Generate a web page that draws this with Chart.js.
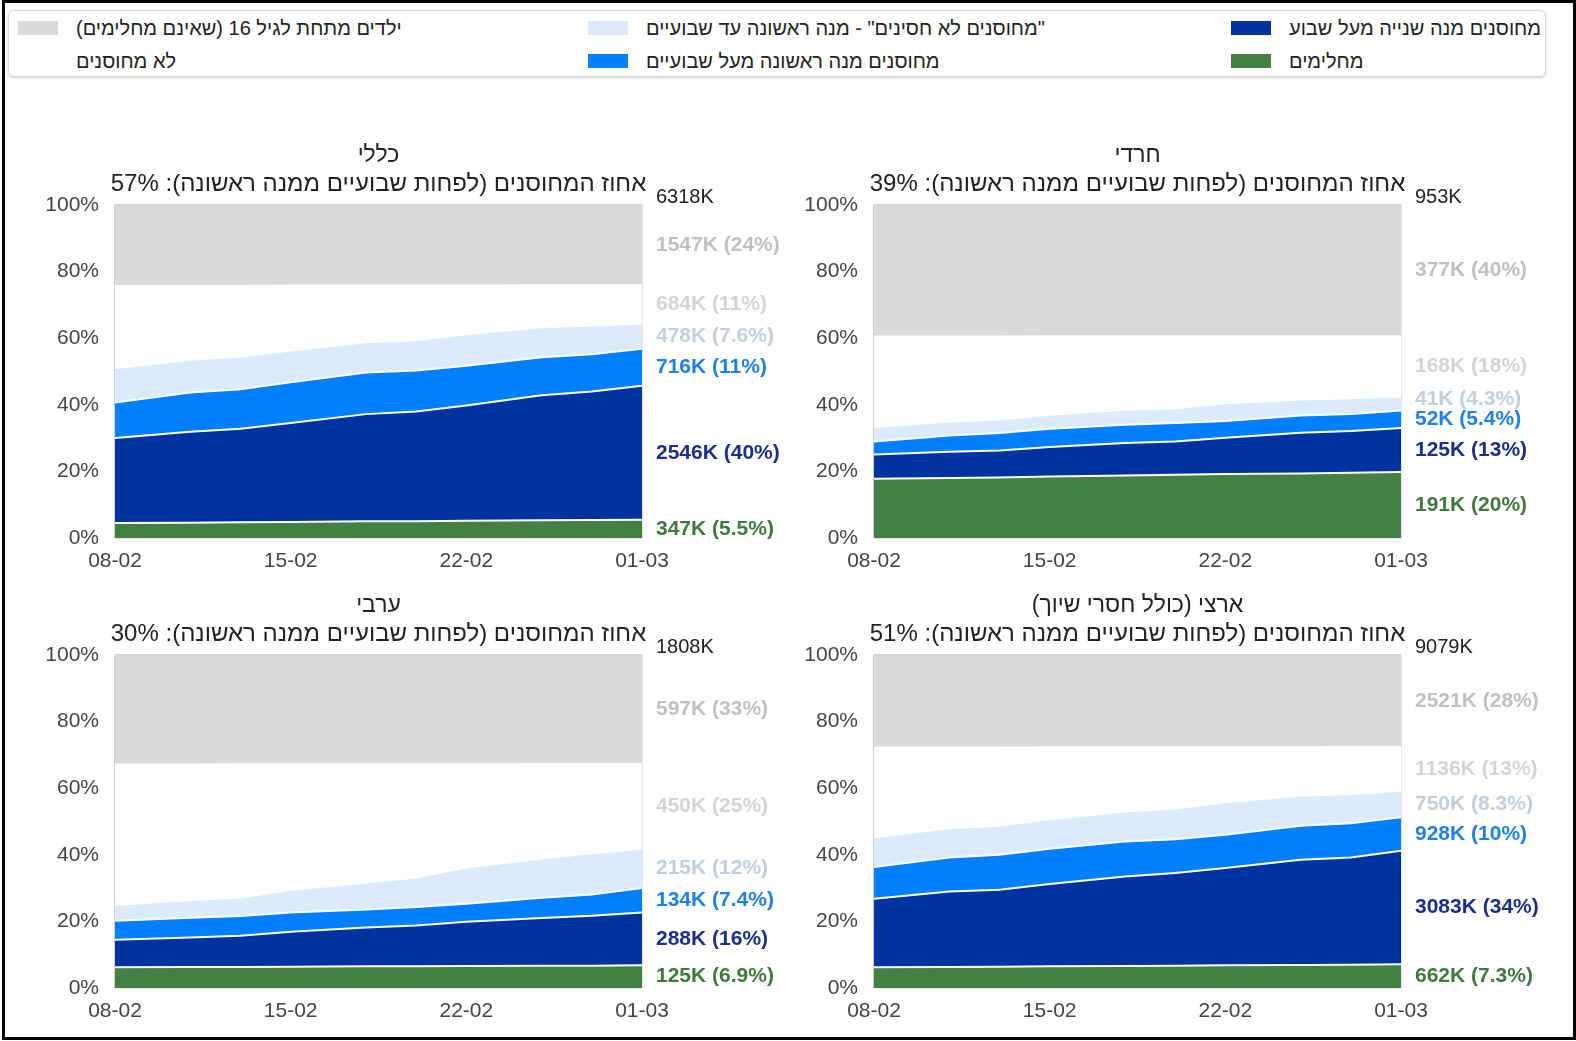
<!DOCTYPE html>
<html lang="he">
<head>
<meta charset="utf-8">
<script src="https://cdn.jsdelivr.net/npm/chart.js@4.4.1/dist/chart.umd.min.js"></script>
<style>
  body { margin: 0; width: 1576px; height: 1041px; background: #fff; position: relative; overflow: hidden;
         font-family: "Liberation Sans", Arial, sans-serif; }
  .frame { position: absolute; left: 2px; top: 0; width: 1574px; height: 1040px; box-sizing: border-box;
           border: 3px solid #000; }
  .legend { position: absolute; left: 8px; top: 10px; width: 1538px; height: 67px; box-sizing: border-box;
            border: 1px solid #d6d6d6; border-radius: 6px; box-shadow: 0 1px 3px rgba(0,0,0,.18); }
  .item { position: absolute; display: flex; align-items: center; height: 22px; font-size: 20px; color: #222; }
  .swatch { width: 40px; height: 14px; margin-right: 18px; flex: none; }
  .panel { position: absolute; }
</style>
</head>
<body>
<div class="frame"></div>
<div class="legend"></div>
<div id="legendItems"></div>
<canvas class="panel" id="general" width="785" height="450" style="left:0;top:130px"></canvas>
<canvas class="panel" id="haredi" width="791" height="450" style="left:785px;top:130px"></canvas>
<canvas class="panel" id="arab" width="785" height="450" style="left:0;top:580px"></canvas>
<canvas class="panel" id="national" width="791" height="450" style="left:785px;top:580px"></canvas>
<script>
// days since 08-02 (samples on Mon / Thu / Sat)
const days = [0, 3, 5, 7, 10, 12, 14, 17, 19, 21];
const tickDays = [0, 7, 14, 21];
const tickLabels = ['08-02', '15-02', '22-02', '01-03'];

// cumulative top of each layer, % of population
const generalRecovered = [4.5, 4.6, 4.7, 4.8, 5.0, 5.0, 5.2, 5.3, 5.4, 5.5];
const generalDose2 = [30.0, 31.9, 32.8, 34.5, 37.2, 38.0, 39.8, 42.9, 44.0, 45.7];
const generalDose1 = [40.7, 43.7, 44.7, 46.8, 49.7, 50.3, 51.7, 54.3, 55.2, 56.8];
const generalDose1Recent = [51.0, 53.5, 54.5, 56.3, 58.8, 59.4, 61.2, 63.3, 63.8, 64.4];
const generalUnvaccinated = [75.7, 75.7, 75.7, 75.8, 75.8, 75.8, 75.8, 75.9, 75.9, 75.9];

const harediRecovered = [17.8, 18.0, 18.2, 18.5, 18.8, 19.0, 19.2, 19.4, 19.6, 19.8];
const harediDose2 = [25.1, 25.9, 26.3, 27.3, 28.5, 29.0, 30.1, 31.6, 32.1, 33.0];
const harediDose1 = [29.0, 30.8, 31.5, 32.8, 34.0, 34.5, 35.1, 36.8, 37.2, 38.3];
const harediDose1Recent = [33.3, 35.0, 35.6, 37.0, 38.5, 39.0, 40.5, 41.6, 42.0, 42.5];
const harediUnvaccinated = [60.5, 60.5, 60.5, 60.6, 60.6, 60.6, 60.6, 60.6, 60.6, 60.6];

const arabRecovered = [6.2, 6.3, 6.3, 6.4, 6.5, 6.5, 6.6, 6.7, 6.7, 6.8];
const arabDose2 = [14.5, 15.2, 15.7, 16.9, 18.2, 18.8, 19.9, 21.0, 21.7, 22.7];
const arabDose1 = [20.2, 21.1, 21.6, 22.7, 23.6, 24.3, 25.3, 27.1, 28.1, 30.0];
const arabDose1Recent = [24.9, 26.4, 27.2, 29.4, 31.7, 33.2, 36.2, 38.9, 40.5, 41.8];
const arabUnvaccinated = [67.1, 67.1, 67.2, 67.2, 67.2, 67.2, 67.2, 67.3, 67.3, 67.3];

const nationalRecovered = [6.2, 6.3, 6.4, 6.5, 6.6, 6.7, 6.8, 6.9, 7.0, 7.1];
const nationalDose2 = [26.8, 29.0, 29.5, 31.2, 33.5, 34.5, 36.0, 38.5, 39.2, 41.2];
const nationalDose1 = [36.3, 39.2, 40.0, 41.8, 44.0, 44.7, 46.0, 48.7, 49.5, 51.3];
const nationalDose1Recent = [45.3, 48.0, 48.7, 50.7, 53.0, 53.9, 55.8, 57.7, 58.2, 59.2];
const nationalUnvaccinated = [72.2, 72.2, 72.2, 72.3, 72.3, 72.3, 72.3, 72.3, 72.4, 72.4];

const panelTitles = ['כללי', 'חרדי', 'ערבי', 'ארצי (כולל חסרי שיוך)'];
const coveragePct = [57, 39, 30, 51];
const totals = ['6318K', '953K', '1808K', '9079K'];
// end labels, bottom layer first
const generalLabels = ['347K (5.5%)', '2546K (40%)', '716K (11%)', '478K (7.6%)', '684K (11%)', '1547K (24%)'];
const harediLabels = ['191K (20%)', '125K (13%)', '52K (5.4%)', '41K (4.3%)', '168K (18%)', '377K (40%)'];
const arabLabels = ['125K (6.9%)', '288K (16%)', '134K (7.4%)', '215K (12%)', '450K (25%)', '597K (33%)'];
const nationalLabels = ['662K (7.3%)', '3083K (34%)', '928K (10%)', '750K (8.3%)', '1136K (13%)', '2521K (28%)'];

const layerNames = ['מחלימים', 'מחוסנים מנה שנייה מעל שבוע', 'מחוסנים מנה ראשונה מעל שבועיים',
  '"מחוסנים לא חסינים" - מנה ראשונה עד שבועיים', 'לא מחוסנים', 'ילדים מתחת לגיל 16 (שאינם מחלימים)'];
const fillColors = ['#447f43', '#0033a0', '#0080ff', '#dcebfc', '#ffffff', '#dadada'];
const labelColors = ['#3f7a3d', '#1c2e8c', '#1f80ea', '#c2cedb', '#d4d4d4', '#c0c0c0'];

const FONT = '"Liberation Sans", Arial, sans-serif';
Chart.defaults.font.family = FONT;

// legend (html, three columns)
const legendSlots = [
  { layer: 1, left: 1231, top: 17 }, { layer: 0, left: 1231, top: 50 },
  { layer: 3, left: 588, top: 17 }, { layer: 2, left: 588, top: 50 },
  { layer: 5, left: 18, top: 17 }, { layer: 4, left: 18, top: 50 }
];
const legendBox = document.getElementById('legendItems');
legendSlots.forEach(s => {
  const el = document.createElement('div');
  el.className = 'item';
  el.style.left = s.left + 'px';
  el.style.top = s.top + 'px';
  el.innerHTML = '<span class="swatch" style="background:' + fillColors[s.layer] + '"></span>' +
    '<span dir="rtl">' + layerNames[s.layer].replace(/"/g, '&quot;') + '</span>';
  legendBox.appendChild(el);
});

const panelText = {
  id: 'panelText',
  afterDraw(chart, args, opts) {
    const { ctx, chartArea: a } = chart;
    const y = chart.scales.y;
    ctx.save();
    ctx.textBaseline = 'middle';
    ctx.fillStyle = '#222';
    ctx.textAlign = 'center';
    ctx.direction = 'rtl';
    const cx = (a.left + a.right) / 2;
    ctx.font = '23px ' + FONT;
    ctx.fillText(opts.title, cx, a.top - 49);
    ctx.font = '24px ' + FONT;
    ctx.fillText(opts.subtitle, cx, a.top - 21);
    ctx.direction = 'ltr';
    ctx.textAlign = 'left';
    ctx.font = '20px ' + FONT;
    ctx.fillText(opts.total, a.right + 14, a.top - 8);

    const last = opts.tops.map(arr => arr[arr.length - 1]);
    last.push(100);
    let prev = Infinity;
    ctx.font = 'bold 21px ' + FONT;
    opts.labels.forEach((txt, i) => {
      const lo = i === 0 ? 0 : last[i - 1];
      let py = y.getPixelForValue((lo + last[i]) / 2);
      py = Math.min(py, prev - 20);
      prev = py;
      ctx.fillStyle = labelColors[i];
      ctx.fillText(txt, a.right + 14, py);
    });
    ctx.restore();
  }
};

function makePanel(id, idx, tops, labels, axisWidth, padRight) {
  const datasets = tops.map((arr, i) => ({
    data: days.map((d, j) => ({ x: d, y: arr[j] })),
    fill: i === 0 ? 'origin' : '-1',
    backgroundColor: fillColors[i],
    borderColor: '#ffffff',
    borderWidth: 2,
    pointRadius: 0,
    tension: 0
  }));
  // children layer: from unvaccinated top up to 100%
  const unvax = tops[tops.length - 1];
  datasets.push({
    data: days.map((d, j) => ({ x: d, y: unvax[j] })),
    fill: { value: 100 },
    backgroundColor: fillColors[5],
    borderWidth: 0,
    pointRadius: 0
  });

  new Chart(document.getElementById(id), {
    type: 'line',
    data: { datasets },
    plugins: [panelText],
    options: {
      responsive: false,
      devicePixelRatio: 1,
      animation: false,
      layout: { padding: { left: 0, right: padRight, top: 75, bottom: 2 } },
      plugins: {
        legend: { display: false },
        tooltip: { enabled: false },
        panelText: {
          title: panelTitles[idx],
          subtitle: 'אחוז המחוסנים (לפחות שבועיים ממנה ראשונה): ' + coveragePct[idx] + '%',
          total: totals[idx],
          labels,
          tops
        }
      },
      scales: {
        x: {
          type: 'linear', min: 0, max: 21, z: 1,
          afterBuildTicks: s => { s.ticks = tickDays.map(v => ({ value: v })); },
          afterFit: s => { s.height = 40; },
          grid: { color: '#cfcfcf', lineWidth: 1.5, drawTicks: false },
          border: { display: false },
          ticks: {
            padding: 11, color: '#444', font: { size: 21 }, maxRotation: 0,
            callback: v => tickLabels[tickDays.indexOf(v)]
          }
        },
        y: {
          min: 0, max: 100, z: 1,
          afterFit: s => { s.width = axisWidth; },
          grid: { color: '#cfcfcf', lineWidth: 1.5, drawTicks: false },
          border: { display: false },
          ticks: { stepSize: 20, padding: 16, color: '#444', font: { size: 21 }, callback: v => v + '%' }
        }
      }
    }
  });
}

makePanel('general', 0,
  [generalRecovered, generalDose2, generalDose1, generalDose1Recent, generalUnvaccinated], generalLabels, 115, 143);
makePanel('haredi', 1,
  [harediRecovered, harediDose2, harediDose1, harediDose1Recent, harediUnvaccinated], harediLabels, 89, 175);
makePanel('arab', 2,
  [arabRecovered, arabDose2, arabDose1, arabDose1Recent, arabUnvaccinated], arabLabels, 115, 143);
makePanel('national', 3,
  [nationalRecovered, nationalDose2, nationalDose1, nationalDose1Recent, nationalUnvaccinated], nationalLabels, 89, 175);
</script>
</body>
</html>
